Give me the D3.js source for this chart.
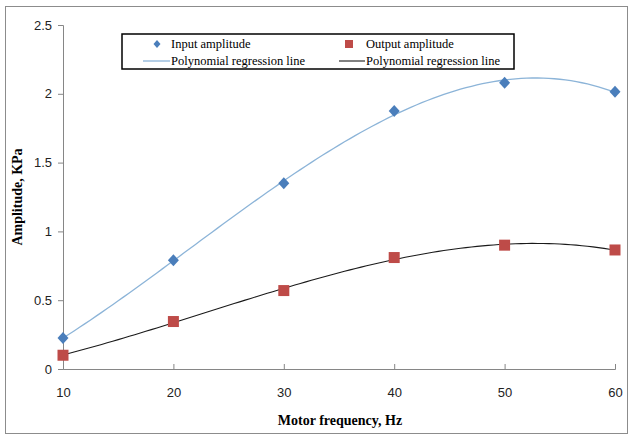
<!DOCTYPE html>
<html>
<head>
<meta charset="utf-8">
<script src="https://cdn.jsdelivr.net/npm/d3@7"></script>
<style>
  body { margin: 0; background: #fff; }
  svg text { fill: #000; }
</style>
</head>
<body>
<div id="chart"></div>
<script>
// values
var freqs = [10, 20, 30, 40, 50, 60];
var inputAmp = [0.225, 0.79, 1.35, 1.875, 2.08, 2.015];
var outputAmp = [0.10, 0.345, 0.57, 0.81, 0.90, 0.865];
var xTicks = [10, 20, 30, 40, 50, 60];
var yTicks = [0, 0.5, 1, 1.5, 2, 2.5];

var W = 632, H = 437;
var margin = { left: 63, right: 17, top: 25, bottom: 68 };

var svg = d3.select("#chart").append("svg").attr("width", W).attr("height", H);

// outer frame
svg.append("rect").attr("x", 5.5).attr("y", 6.5).attr("width", 622).attr("height", 427)
  .attr("fill", "none").attr("stroke", "#8c8c8c").attr("stroke-width", 1);

var x = d3.scaleLinear().domain([10, 60]).range([margin.left, W - margin.right]);
var y = d3.scaleLinear().domain([0, 2.5]).range([H - margin.bottom, margin.top]);

// least squares cubic fit (what the spreadsheet's polynomial trendline does)
function polyFit(xs, ys, order) {
  var n = order + 1;
  var A = [];
  for (var r = 0; r < n; r++) {
    A.push([]);
    for (var c = 0; c <= n; c++) A[r].push(0);
  }
  for (var i = 0; i < xs.length; i++) {
    for (var r = 0; r < n; r++) {
      for (var c = 0; c < n; c++) A[r][c] += Math.pow(xs[i], r + c);
      A[r][n] += ys[i] * Math.pow(xs[i], r);
    }
  }
  for (var k = 0; k < n; k++) {
    var p = k;
    for (var r = k + 1; r < n; r++) if (Math.abs(A[r][k]) > Math.abs(A[p][k])) p = r;
    var t = A[k]; A[k] = A[p]; A[p] = t;
    for (var r = k + 1; r < n; r++) {
      var f = A[r][k] / A[k][k];
      for (var c = k; c <= n; c++) A[r][c] -= f * A[k][c];
    }
  }
  var coef = new Array(n).fill(0);
  for (var r = n - 1; r >= 0; r--) {
    var s = A[r][n];
    for (var c = r + 1; c < n; c++) s -= A[r][c] * coef[c];
    coef[r] = s / A[r][r];
  }
  return function (v) {
    var out = 0;
    for (var j = 0; j < n; j++) out += coef[j] * Math.pow(v, j);
    return out;
  };
}

var fitIn = polyFit(freqs, inputAmp, 3);
var fitOut = polyFit(freqs, outputAmp, 3);
var samples = d3.range(10, 60.01, 0.5);

// axes
var yAxis = svg.append("g").attr("transform", "translate(" + margin.left + ",0)")
  .call(d3.axisLeft(y).tickValues(yTicks).tickSize(5).tickPadding(6)
    .tickFormat(function (d) { return d; }));
var xAxis = svg.append("g").attr("transform", "translate(0," + (H - margin.bottom) + ")")
  .call(d3.axisBottom(x).tickValues(xTicks).tickSize(-5).tickPadding(19));
[yAxis, xAxis].forEach(function (g) {
  g.select(".domain").attr("stroke", "#868686");
  g.selectAll(".tick line").attr("stroke", "#868686");
  g.selectAll("text").style("font-family", "'Liberation Sans', Arial, sans-serif")
    .style("font-size", "13px").style("fill", "#222");
});

// regression lines
var line = d3.line().x(function (d) { return x(d[0]); }).y(function (d) { return y(d[1]); });
svg.append("path").datum(samples.map(function (v) { return [v, fitIn(v)]; }))
  .attr("d", line).attr("fill", "none").attr("stroke", "#8cb4d8").attr("stroke-width", 1.3);
svg.append("path").datum(samples.map(function (v) { return [v, fitOut(v)]; }))
  .attr("d", line).attr("fill", "none").attr("stroke", "#1a1a1a").attr("stroke-width", 1.1);

// markers
function diamondPath(hw, hh) {
  return "M0," + (-hh) + "L" + hw + ",0L0," + hh + "L" + (-hw) + ",0Z";
}
svg.selectAll(".inPt").data(freqs).enter().append("path")
  .attr("class", "inPt")
  .attr("transform", function (d, i) { return "translate(" + x(d) + "," + y(inputAmp[i]) + ")"; })
  .attr("d", diamondPath(5.5, 6)).attr("fill", "#4a7ebb");
svg.selectAll(".outPt").data(freqs).enter().append("rect")
  .attr("class", "outPt")
  .attr("x", function (d) { return x(d) - 5.5; })
  .attr("y", function (d, i) { return y(outputAmp[i]) - 5.5; })
  .attr("width", 11).attr("height", 11).attr("fill", "#be4b48");

// axis titles
svg.append("text").attr("x", 340).attr("y", 425).attr("text-anchor", "middle")
  .style("font-family", "'Liberation Serif', 'Times New Roman', serif")
  .style("font-weight", "bold").style("font-size", "14px")
  .text("Motor frequency, Hz");
svg.append("text").attr("transform", "translate(22,197) rotate(-90)").attr("text-anchor", "middle")
  .style("font-family", "'Liberation Serif', 'Times New Roman', serif")
  .style("font-weight", "bold").style("font-size", "14px")
  .text("Amplitude, KPa");

// legend
var leg = svg.append("g").style("font-family", "'Liberation Serif', 'Times New Roman', serif")
  .style("font-size", "12.5px");
leg.append("rect").attr("x", 122).attr("y", 34).attr("width", 392).attr("height", 35)
  .attr("fill", "#fff").attr("stroke", "#000").attr("stroke-width", 1.5);
leg.append("path").attr("d", diamondPath(3.5, 4))
  .attr("transform", "translate(157,44)").attr("fill", "#4a7ebb");
leg.append("text").attr("x", 171).attr("y", 48).text("Input amplitude");
leg.append("rect").attr("x", 345).attr("y", 40).attr("width", 8).attr("height", 8).attr("fill", "#be4b48");
leg.append("text").attr("x", 366).attr("y", 48).text("Output amplitude");
leg.append("line").attr("x1", 143).attr("x2", 170).attr("y1", 61).attr("y2", 61)
  .attr("stroke", "#8cb4d8").attr("stroke-width", 1.3);
leg.append("text").attr("x", 171).attr("y", 65).text("Polynomial regression line");
leg.append("line").attr("x1", 339).attr("x2", 365).attr("y1", 61).attr("y2", 61)
  .attr("stroke", "#1a1a1a").attr("stroke-width", 1.1);
leg.append("text").attr("x", 366).attr("y", 65).text("Polynomial regression line");
</script>
</body>
</html>
